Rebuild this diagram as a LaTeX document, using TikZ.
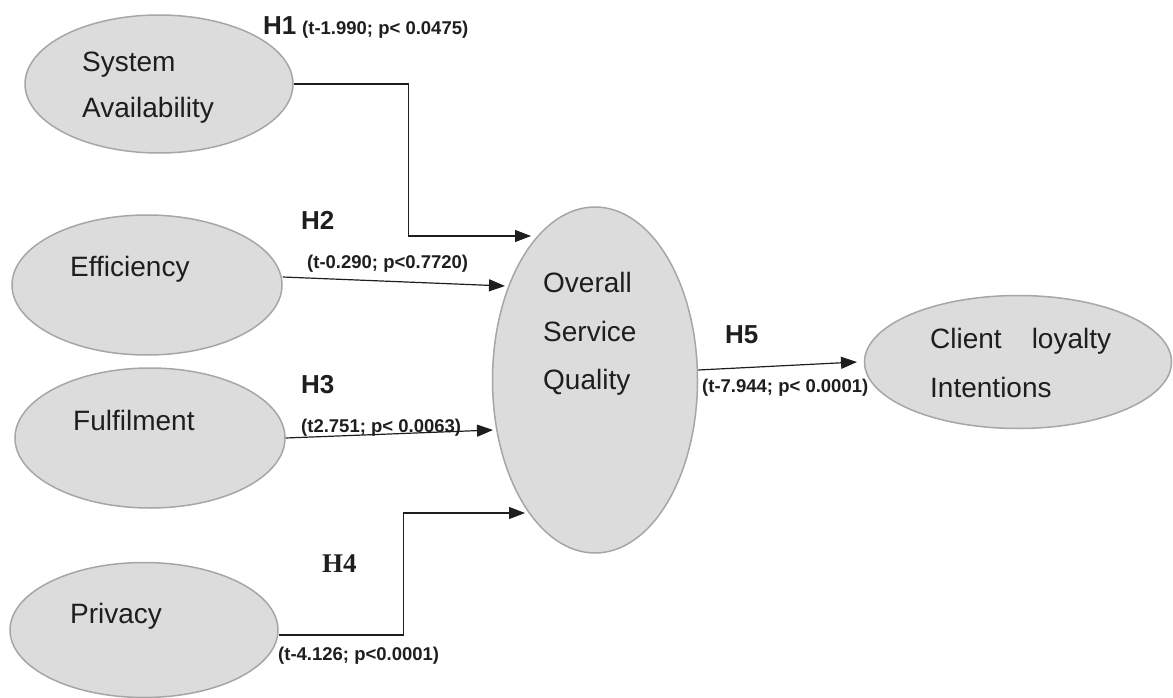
\documentclass[tikz,border=0pt]{standalone}
\usepackage{fontspec}
\setmainfont{Liberation Sans}
\newfontfamily\serifhyp{Liberation Serif}
\usetikzlibrary{arrows.meta,positioning,calc,shapes.geometric}

\definecolor{ovalfill}{HTML}{DCDCDC}
\definecolor{ovalline}{HTML}{A6A6A6}
\definecolor{inkgray}{HTML}{1E1E1E}

\tikzset{
  construct/.style={ellipse, draw=ovalline, fill=ovalfill, line width=1.5pt, inner sep=0pt},
  vartext/.style={anchor=base west, inner sep=0pt, text=inkgray, font=\fontsize{28}{32}\selectfont},
  hyp/.style={anchor=base west, inner sep=0pt, text=inkgray, font=\fontsize{26}{30}\selectfont\bfseries},
  stat/.style={anchor=base west, inner sep=0pt, text=inkgray, font=\fontsize{18.5}{22}\selectfont\bfseries},
  link/.style={draw=inkgray, line width=1.2pt, -{Triangle[length=16pt,width=12pt]}},
}

\begin{document}
\begin{tikzpicture}[x=1pt, y=-1pt]
    \useasboundingbox (0,0) rectangle (1173,698);

    % Constructs
    \node[construct, minimum width=268pt, minimum height=138pt] (sa) at (159,84) {};
    \node[construct, minimum width=270pt, minimum height=140pt] (ef) at (147,285) {};
    \node[construct, minimum width=270pt, minimum height=140pt] (fu) at (150,438) {};
    \node[construct, minimum width=268pt, minimum height=135pt] (pr) at (144,630) {};
    \node[construct, minimum width=205pt, minimum height=346pt] (osq) at (595,380) {};
    \node[construct, minimum width=307pt, minimum height=133pt] (cli) at (1018,362) {};

    % Construct names
    \node[vartext] (sa-a) at (82,72) {System};
    \node[vartext] (sa-b) at (82,118) {Availability};
    \node[vartext] (ef-a) at (70,276) {Efficiency};
    \node[vartext] (fu-a) at (73,430) {Fulfilment};
    \node[vartext] (pr-a) at (70,623) {Privacy};
    \node[vartext] (osq-a) at (543,292) {Overall};
    \node[vartext] (osq-b) at (543,341) {Service};
    \node[vartext] (osq-c) at (543,389) {Quality};
    \node[vartext] (cli-a) at (930,348) {Client\hspace{30pt}loyalty};
    \node[vartext] (cli-b) at (930,397) {Intentions};

    % Free ends of the paths
    \coordinate (h1end) at (531,236);
    \coordinate (h2end) at (505,286);
    \coordinate (h3end) at (493,430);
    \coordinate (h4end) at (525,513);
    \coordinate (h5end) at (857,362);

    % Paths
    \draw[link] (sa.east) -| ++(115,152) -- (h1end);
    \draw[link] ([yshift=8pt]ef.east) -- (h2end);
    \draw[link] (fu.east) -- (h3end);
    \draw[link] ([yshift=-5pt]pr.east) -| ++(125,-122) -- (h4end);
    \draw[link] ([yshift=10pt]osq.east) -- (h5end);

    % Hypotheses
    \node[hyp] (h1) at (263,35) {H1};
    \node[stat] (h1-s) at (302,35) {(t-1.990; p< 0.0475)};
    \node[hyp] (h2) at (301,229) {H2};
    \node[stat] (h2-s) at (307,268) {(t-0.290; p<0.7720)};
    \node[hyp] (h3) at (301,393) {H3};
    \node[stat] (h3-s) at (301,432) {(t2.751; p< 0.0063)};
    \node[hyp, font=\fontsize{27}{30}\selectfont\serifhyp\bfseries] (h4) at (322,572) {H4};
    \node[stat] (h4-s) at (278,660) {(t-4.126; p<0.0001)};
    \node[hyp] (h5) at (725,343) {H5};
    \node[stat] (h5-s) at (702,392) {(t-7.944; p< 0.0001)};
\end{tikzpicture}
\end{document}
